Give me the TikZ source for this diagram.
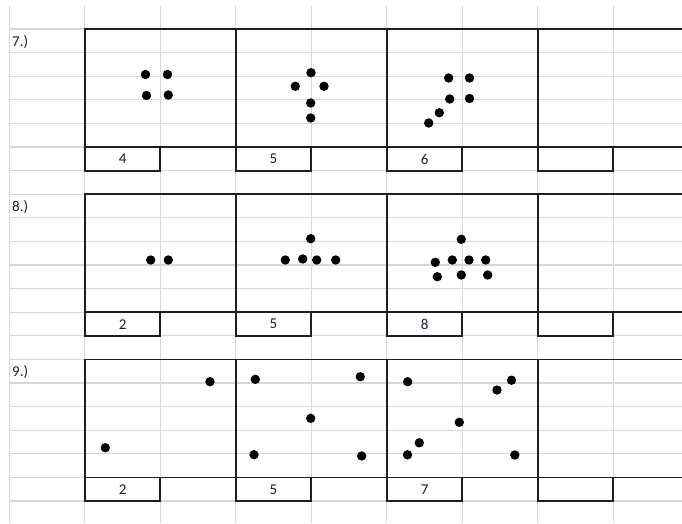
\documentclass[tikz,border=0pt]{standalone}
\usepackage{fontspec}
\setmainfont{Carlito}
\definecolor{gridgray}{RGB}{216,216,216}
\definecolor{txt}{RGB}{30,30,50}
\begin{document}
\begin{tikzpicture}[x=1pt,y=-1pt,
  gridline/.style={draw=gridgray, line width=1.3pt},
  boxline/.style={draw=black!88, line width=1.8pt, line cap=rect},
  dotn/.style={circle, fill=black, inner sep=0pt, minimum size=9.4pt},
  lab/.style={font=\fontsize{15}{17}\selectfont, text=txt, inner sep=0pt},
]
\fill[white] (0,0) rectangle (682,523);
\useasboundingbox (0,0) rectangle (682,523);
% spreadsheet grid
\foreach \i in {0,...,8} \draw[gridline] ({9.2+75.5*\i},6) -- ({9.2+75.5*\i},523);
\foreach \k in {0,...,20} \draw[gridline] (9.2,{29+23.6*\k}) -- (682,{29+23.6*\k});
% problem frames
\foreach \t in {0,7,14}{
  \pgfmathsetmacro{\T}{29+23.6*\t}
  \pgfmathsetmacro{\B}{29+23.6*(\t+5)}
  \pgfmathsetmacro{\L}{29+23.6*(\t+6)}
  \draw[boxline] (84.7,\T) -- (690,\T);
  \draw[boxline] (84.7,\B) -- (690,\B);
  \foreach \a/\b in {84.7/160.2, 235.7/311.2, 386.7/462.2, 537.7/613.2}{
    \draw[boxline] (\a,\T) -- (\a,\L) -- (\b,\L) -- (\b,\B);
  }
}
% problem labels
\node[lab, anchor=base west] (p7) at (12,46) {7.)};
\node[lab, anchor=base west] (p8) at (12,211.2) {8.)};
\node[lab, anchor=base west] (p9) at (12,376.4) {9.)};
% answer numbers
\node[lab] (a7a) at (122.6,159) {4};
\node[lab] (a7b) at (273.4,159) {5};
\node[lab] (a7c) at (424.6,159) {6};
\node[lab] (a8a) at (122.6,324.2) {2};
\node[lab] (a8b) at (273.4,324.2) {5};
\node[lab] (a8c) at (424.6,324.2) {8};
\node[lab] (a9a) at (122.6,489.4) {2};
\node[lab] (a9b) at (273.4,489.4) {5};
\node[lab] (a9c) at (424.6,489.4) {7};
% problem 7 dots
\node[dotn] (d71) at (145.5,74.5) {};
\node[dotn] (d72) at (167.5,74.5) {};
\node[dotn] (d73) at (146.5,95.5) {};
\node[dotn] (d74) at (168.3,95) {};
\node[dotn] (d75) at (311,72.7) {};
\node[dotn] (d76) at (295.3,86.3) {};
\node[dotn] (d77) at (324,86.3) {};
\node[dotn] (d78) at (310.7,103) {};
\node[dotn] (d79) at (310.7,118) {};
\node[dotn] (d710) at (448.7,78) {};
\node[dotn] (d711) at (469.5,78) {};
\node[dotn] (d712) at (449.7,99) {};
\node[dotn] (d713) at (469.5,98.5) {};
\node[dotn] (d714) at (439.3,112.7) {};
\node[dotn] (d715) at (428.7,123) {};
% problem 8 dots
\node[dotn] (d81) at (150.7,260) {};
\node[dotn] (d82) at (168.3,260) {};
\node[dotn] (d83) at (310.7,238.7) {};
\node[dotn] (d84) at (285.3,260) {};
\node[dotn] (d85) at (302.7,259) {};
\node[dotn] (d86) at (316.7,260) {};
\node[dotn] (d87) at (335.7,260) {};
\node[dotn] (d88) at (461.3,239.3) {};
\node[dotn] (d89) at (435.3,262.3) {};
\node[dotn] (d810) at (452.3,260) {};
\node[dotn] (d811) at (469,260) {};
\node[dotn] (d812) at (485.7,260) {};
\node[dotn] (d813) at (437.3,276.7) {};
\node[dotn] (d814) at (461.3,275) {};
\node[dotn] (d815) at (487.7,275) {};
% problem 9 dots
\node[dotn] (d91) at (210,381.7) {};
\node[dotn] (d92) at (105.3,447.7) {};
\node[dotn] (d93) at (255.3,379.3) {};
\node[dotn] (d94) at (360.3,376.7) {};
\node[dotn] (d95) at (310.7,418.3) {};
\node[dotn] (d96) at (254,454.7) {};
\node[dotn] (d97) at (361.7,456) {};
\node[dotn] (d98) at (407.7,381.7) {};
\node[dotn] (d99) at (511.5,380.2) {};
\node[dotn] (d910) at (497,390) {};
\node[dotn] (d911) at (459.3,422.3) {};
\node[dotn] (d912) at (419.3,442.8) {};
\node[dotn] (d913) at (407.5,454.8) {};
\node[dotn] (d914) at (514.8,455) {};
\end{tikzpicture}
\end{document}
